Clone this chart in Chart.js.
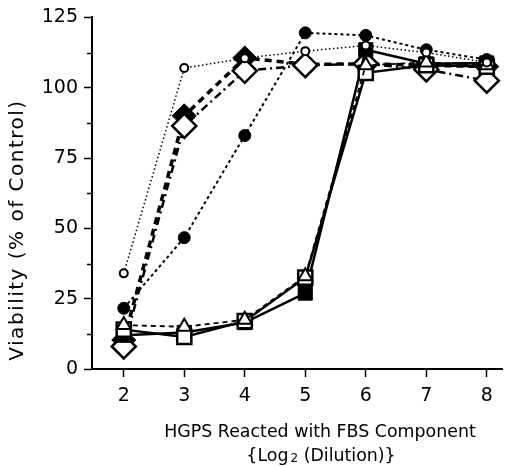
<!DOCTYPE html>
<html>
<head>
<meta charset="utf-8">
<script src="https://cdn.jsdelivr.net/npm/chart.js@4/dist/chart.umd.min.js"></script>
<style>
  html, body { margin: 0; padding: 0; background: #fff; }
  #wrap { width: 517px; height: 466px; position: relative; }
</style>
</head>
<body>
<div id="wrap"><canvas id="c" width="517" height="466"></canvas></div>
<script>
// ---- data ----
const dilutions = [2, 3, 4, 5, 6, 7, 8];
const openCircle    = [34, 107, 110.5, 113, 115, 112.5, 109];
const filledCircle  = [21.6, 46.7, 83, 119.5, 118.6, 113.5, 110];
const filledDiamond = [10.3, 90, 110.6, 108.3, 108.5, 108, 107.5];
const openDiamond   = [8, 86.4, 106, 108, 108.5, 106.5, 102.5];
const filledSquare  = [12, 13, 16.5, 27, 113.5, 108.5, 108.8];
const openSquare    = [14, 11.4, 17, 32.5, 105.3, 108, 107.5];
const openTriangle  = [15.6, 15, 17.5, 33, 108, 109, 108];
const yTicks = [0, 25, 50, 75, 100, 125];
const yMinorTicks = [12.5, 37.5, 62.5, 87.5, 112.5];
const xTitleLine1 = "HGPS Reacted with FBS Component";
const xTitleLine2 = ["{Log", "2", " (Dilution)}"];
const yTitle = "Viability (% of Control)";

const FONT = '"DejaVu Sans", "Liberation Sans", sans-serif';

function pts(arr) { return arr.map((v, i) => ({ x: dilutions[i], y: v })); }

function ds(values, o) {
  return Object.assign({
    data: pts(values),
    borderColor: '#000',
    pointBorderColor: '#000',
    fill: false,
    tension: 0,
    pointHoverRadius: 0
  }, o);
}

const datasets = [
  ds(openCircle,   { borderWidth: 1.5, borderDash: [1.5, 2.5], pointStyle: 'circle', pointRadius: 4, pointBackgroundColor: '#fff', pointBorderWidth: 2 }),
  ds(filledCircle, { borderWidth: 2, borderDash: [3, 3], pointStyle: 'circle', pointRadius: 6, pointBackgroundColor: '#000', pointBorderWidth: 1 }),
  ds(openTriangle, { borderWidth: 1.8, borderDash: [5, 4], pointStyle: 'triangle', pointRadius: 8, pointBackgroundColor: '#fff', pointBorderWidth: 2 }),
  ds(openSquare,   { borderWidth: 2.5, pointStyle: 'rect', pointRadius: 10, pointBackgroundColor: '#fff', pointBorderWidth: 2.5 }),
  ds(filledSquare, { borderWidth: 2.5, pointStyle: 'rect', pointRadius: 10, pointBackgroundColor: '#000', pointBorderWidth: 1 }),
  ds(openDiamond,  { borderWidth: 2.5, borderDash: [8, 4, 2, 4], pointStyle: 'rectRot', pointRadius: 12, pointBackgroundColor: '#fff', pointBorderWidth: 2.5 }),
  ds(filledDiamond,{ borderWidth: 3.5, borderDash: [7, 5], pointStyle: 'rectRot', pointRadius: 12, pointBackgroundColor: '#000', pointBorderWidth: 1 })
];

const extras = {
  id: 'extras',
  afterDraw(chart) {
    const ctx = chart.ctx;
    const ys = chart.scales.y;
    const area = chart.chartArea;
    ctx.save();
    // minor y ticks
    ctx.strokeStyle = '#000';
    ctx.lineWidth = 1.5;
    yMinorTicks.forEach(v => {
      const p = Math.round(ys.getPixelForValue(v)) + 0.5;
      ctx.beginPath();
      ctx.moveTo(area.left - 5, p);
      ctx.lineTo(area.left, p);
      ctx.stroke();
    });
    ctx.fillStyle = '#000';
    // y title
    ctx.save();
    ctx.translate(17.5, 230);
    ctx.rotate(-Math.PI / 2);
    ctx.font = '20px ' + FONT;
    ctx.letterSpacing = '1.5px';
    ctx.textAlign = 'center';
    ctx.textBaseline = 'middle';
    ctx.fillText(yTitle, 0, 0);
    ctx.restore();
    // x title line 1
    ctx.font = '17.4px ' + FONT;
    ctx.textAlign = 'center';
    ctx.textBaseline = 'middle';
    ctx.fillText(xTitleLine1, 320, 432);
    // x title line 2 with subscript
    const bigF = '17.4px ' + FONT, smallF = '12px ' + FONT;
    ctx.textAlign = 'left';
    ctx.textBaseline = 'alphabetic';
    ctx.font = bigF; const w0 = ctx.measureText(xTitleLine2[0]).width;
    ctx.font = smallF; const w1 = ctx.measureText(xTitleLine2[1]).width;
    ctx.font = bigF; const w2 = ctx.measureText(xTitleLine2[2]).width;
    const total = w0 + 2 + w1 + w2;
    let x = 321 - total / 2;
    const base = 461;
    ctx.font = bigF; ctx.fillText(xTitleLine2[0], x, base); x += w0 + 2;
    ctx.font = smallF; ctx.fillText(xTitleLine2[1], x, base + 1); x += w1;
    ctx.font = bigF; ctx.fillText(xTitleLine2[2], x, base);
    ctx.restore();
  }
};

new Chart(document.getElementById('c'), {
  type: 'line',
  data: { datasets },
  options: {
    responsive: false,
    animation: false,
    events: [],
    layout: { padding: { top: 16, right: 9, left: 0, bottom: 0 } },
    plugins: { legend: { display: false }, tooltip: { enabled: false }, title: { display: false } },
    scales: {
      x: {
        type: 'linear',
        min: 1.475,
        max: 8.26,
        afterFit(s) { s.height = 97; },
        afterBuildTicks(s) { s.ticks = dilutions.map(v => ({ value: v })); },
        grid: { drawOnChartArea: false, drawTicks: true, tickLength: 8, tickWidth: 1.5, tickColor: '#000' },
        border: { display: true, color: '#000', width: 2 },
        ticks: { color: '#000', font: { family: FONT, size: 19 }, padding: 8, maxRotation: 0 }
      },
      y: {
        min: 0,
        max: 125,
        afterFit(s) { s.width = 92; },
        afterBuildTicks(s) { s.ticks = yTicks.map(v => ({ value: v })); },
        grid: { drawOnChartArea: false, drawTicks: true, tickLength: 8, tickWidth: 1.5, tickColor: '#000' },
        border: { display: true, color: '#000', width: 2 },
        ticks: { color: '#000', font: { family: FONT, size: 19 }, padding: 6 }
      }
    }
  },
  plugins: [extras]
});
</script>
</body>
</html>
